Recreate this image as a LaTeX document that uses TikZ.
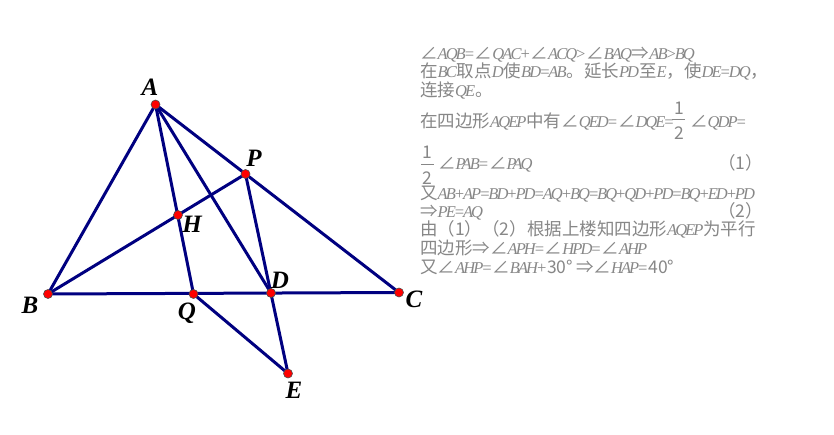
\documentclass[tikz,border=0pt]{standalone}
\usepackage{fontspec}
\setmainfont{Liberation Serif}
\newfontfamily\cjk{Noto Sans CJK SC}
\newfontfamily\ltn[LetterSpace=-12]{Liberation Serif Italic}
\newcommand\Lt[1]{{\ltn\fontsize{16.5}{18}\selectfont #1}}
\newcommand\Ag{{\cjk ∠}}
\newcommand\Ar{{\cjk ⇒}}
\definecolor{edge}{RGB}{0,0,128}
\definecolor{txt}{RGB}{135,135,135}
\tikzset{
  pt/.style={circle,fill=red,draw=black!70,line width=.6pt,minimum size=9pt,inner sep=0pt},
  seg/.style={draw=edge,line width=3pt},
  lab/.style={font=\fontsize{25}{25}\selectfont\bfseries\itshape,text=black,inner sep=0pt,anchor=center},
  tl/.style={font=\cjk\fontsize{17.5}{18}\selectfont,text=txt,inner sep=0pt,anchor=base west}
}
\begin{document}
\begin{tikzpicture}[x=1pt,y=-1pt]
\useasboundingbox[fill=white] (0,0) rectangle (834,435);
\coordinate (A) at (155.5,104.5);
\coordinate (B) at (48,294);
\coordinate (C) at (399,292.5);
\coordinate (P) at (245.5,174);
\coordinate (H) at (178,215);
\coordinate (Q) at (193.5,294);
\coordinate (D) at (271,293);
\coordinate (E) at (288,373.5);
\draw[seg] (A)--(B);
\draw[seg] (B)--(C);
\draw[seg] (A)--(C);
\draw[seg] (A)--(Q);
\draw[seg] (A)--(D);
\draw[seg] (B)--(P);
\draw[seg] (P)--(E);
\draw[seg] (Q)--(E);
\foreach \p in {A,B,C,P,H,Q,D,E} \node[pt] at (\p) {};
\node[lab] (la) at (150,87) {A};
\node[lab] (lp) at (254,158) {P};
\node[lab] (lh) at (192,224) {H};
\node[lab] (lb) at (30,305) {B};
\node[lab] (lq) at (187,313) {Q};
\node[lab] (ld) at (280,280) {D};
\node[lab] (lc) at (414,299) {C};
\node[lab] (le) at (294,390) {E};
\node[tl] (t1) at (420,60) {\Ag\Lt{AQB=}\Ag\Lt{QAC+}\Ag\Lt{ACQ>}\Ag\Lt{BAQ}\Ar\Lt{AB>BQ}};
\node[tl] (t2) at (420,78) {在\Lt{BC}取点\Lt{D}使\Lt{BD=AB}。延长\Lt{PD}至\Lt{E}，使\Lt{DE=DQ}，};
\node[tl] (t3) at (420,97) {连接\Lt{QE}。};
\node[tl] (t4) at (420,128) {在四边形\Lt{AQEP}中有\Ag\Lt{QED=}\Ag\Lt{DQE=}};
\node[tl] (f1a) at (674,115) {1};
\draw[txt,line width=.7pt] (672,119.5) -- (685,119.5);
\node[tl] (f1b) at (674,140) {2};
\node[tl] (t4b) at (690,128) {\Ag\Lt{QDP=}};
\node[tl] (f2a) at (422,159) {1};
\draw[txt,line width=.7pt] (421,164.5) -- (434,164.5);
\node[tl] (f2b) at (422,185) {2};
\node[tl] (t5) at (438,170) {\Ag\Lt{PAB=}\Ag\Lt{PAQ}};
\node[tl] (n1) at (718,170) {（1）};
\node[tl] (t6) at (420,200) {又\Lt{AB+AP=BD+PD=AQ+BQ=BQ+QD+PD=BQ+ED+PD}};
\node[tl] (t7) at (420,218) {\Ar\Lt{PE=AQ}};
\node[tl] (n2) at (718,218) {（2）};
\node[tl] (t8) at (420,236) {由（1）（2）根据上楼知四边形\Lt{AQEP}为平行};
\node[tl] (t9) at (420,255) {四边形\Ar\Ag\Lt{APH=}\Ag\Lt{HPD=}\Ag\Lt{AHP}};
\node[tl] (t10) at (420,273) {又\Ag\Lt{AHP=}\Ag\Lt{BAH+}30°\,\Ar\Ag\Lt{HAP=}40°};
\end{tikzpicture}
\end{document}
